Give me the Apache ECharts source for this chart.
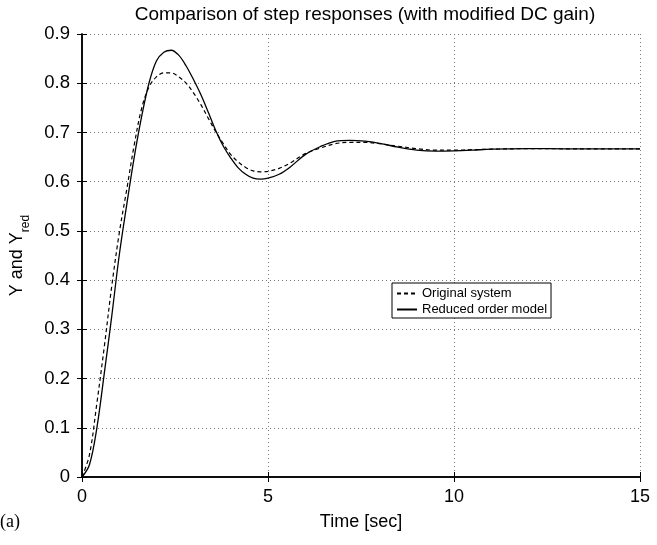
<!DOCTYPE html>
<html>
<head>
<meta charset="utf-8">
<script src="https://cdn.jsdelivr.net/npm/echarts@6/dist/echarts.min.js"></script>
<style>
  html, body { margin: 0; padding: 0; background: #fff; }
  #chart { width: 657px; height: 545px; }
</style>
</head>
<body>
<div id="chart"></div>
<script>
// values
var times = [0, 0.2, 0.4, 0.6, 0.8, 1.0, 1.2, 1.4, 1.6, 1.8, 2.0, 2.2, 2.4, 2.6, 2.8, 3.0,
  3.2, 3.4, 3.6, 3.8, 4.0, 4.2, 4.4, 4.6, 4.8, 5.0, 5.3, 5.6, 6.0, 6.4, 6.8, 7.2,
  7.6, 8.0, 8.5, 9.0, 9.5, 10, 10.5, 11, 12, 13, 14, 15]
var original = [0, 0.045, 0.15, 0.265, 0.388, 0.495, 0.583, 0.673, 0.748, 0.792, 0.813, 0.821, 0.821, 0.813, 0.800, 0.780,
  0.756, 0.728, 0.701, 0.677, 0.655, 0.640, 0.629, 0.622, 0.620, 0.621, 0.627, 0.638, 0.657, 0.668, 0.677, 0.680,
  0.680, 0.677, 0.672, 0.667, 0.664, 0.664, 0.665, 0.666, 0.667, 0.6668, 0.6666, 0.6666]
var reduced = [0, 0.025, 0.10, 0.211, 0.327, 0.45, 0.552, 0.648, 0.731, 0.80, 0.845, 0.863, 0.867, 0.857, 0.835, 0.807,
  0.776, 0.740, 0.703, 0.672, 0.648, 0.628, 0.615, 0.607, 0.605, 0.607, 0.615, 0.630, 0.655, 0.671, 0.682, 0.684,
  0.6825, 0.678, 0.670, 0.664, 0.662, 0.6625, 0.664, 0.666, 0.667, 0.6668, 0.6665, 0.6665]
var xTicks = [0, 5, 10, 15]
var yTicks = [0, 0.1, 0.2, 0.3, 0.4, 0.5, 0.6, 0.7, 0.8, 0.9]

var font = 'Liberation Sans, Arial, Helvetica, sans-serif'
var chart = echarts.init(document.getElementById('chart'))

function pairs (ys) {
  return times.map(function (t, i) { return [t, ys[i]] })
}

var tickStyle = { show: true, inside: true, length: 5, lineStyle: { color: '#000', width: 1 } }
var gridStyle = { show: true, lineStyle: { color: '#777', type: [1, 3], width: 1 } }

chart.setOption({
  animation: false,
  title: {
    text: 'Comparison of step responses (with modified DC gain)',
    left: 360,
    textAlign: 'center',
    top: 0,
    textStyle: { fontFamily: font, fontSize: 19, fontWeight: 'normal', color: '#000' }
  },
  legend: {
    left: 392,
    top: 283,
    orient: 'vertical',
    itemWidth: 20,
    itemHeight: 10,
    itemGap: 3,
    padding: [4, 4, 2, 4],
    borderColor: '#000',
    borderWidth: 1,
    backgroundColor: '#fff',
    borderRadius: 0,
    itemStyle: { opacity: 0 },
    textStyle: { fontFamily: font, fontSize: 13, color: '#000' },
    data: ['Original system', 'Reduced order model']
  },
  grid: { left: 82, right: 17, top: 34, bottom: 68 },
  xAxis: [{
    type: 'value',
    min: 0,
    max: 15,
    interval: 5,
    name: 'Time [sec]',
    nameLocation: 'middle',
    nameGap: 36,
    nameTextStyle: { fontFamily: font, fontSize: 18, color: '#000' },
    axisLine: { show: true, onZero: false, lineStyle: { color: '#000', width: 1.5 } },
    axisTick: tickStyle,
    axisLabel: {
      fontFamily: font, fontSize: 18, color: '#000', margin: 11,
      formatter: function (v) { return xTicks.indexOf(v) >= 0 ? String(v) : '' }
    },
    splitLine: gridStyle
  }, {
    type: 'value',
    position: 'top',
    min: 0,
    max: 15,
    interval: 5,
    axisLine: { show: true, lineStyle: { color: '#000', width: 1.5 } },
    axisTick: tickStyle,
    axisLabel: { show: false },
    splitLine: { show: false }
  }],
  yAxis: [{
    type: 'value',
    min: 0,
    max: 0.9,
    interval: 0.1,
    name: '{a|Y and Y}{b|red}',
    nameLocation: 'middle',
    nameGap: 56,
    nameTextStyle: {
      fontFamily: font,
      color: '#000',
      rich: {
        a: { fontFamily: font, fontSize: 18, color: '#000' },
        b: { fontFamily: font, fontSize: 12, color: '#000', verticalAlign: 'bottom', padding: [0, 0, -6, 0] }
      }
    },
    axisLine: { show: true, onZero: false, lineStyle: { color: '#000', width: 1.5 } },
    axisTick: tickStyle,
    axisLabel: {
      fontFamily: font, fontSize: 18.5, color: '#000', margin: 12,
      formatter: function (v) {
        var r = Math.round(v * 10) / 10
        return yTicks.indexOf(r) >= 0 ? String(r) : ''
      }
    },
    splitLine: gridStyle
  }, {
    type: 'value',
    position: 'right',
    min: 0,
    max: 0.9,
    interval: 0.1,
    axisLine: { show: true, lineStyle: { color: '#000', width: 1.5 } },
    axisTick: tickStyle,
    axisLabel: { show: false },
    splitLine: { show: false }
  }],
  graphic: [{
    type: 'text',
    left: 0,
    top: 513,
    style: { text: '(a)', fontFamily: 'Liberation Serif, Times New Roman, serif', fontSize: 18, fill: '#000' }
  }],
  series: [{
    name: 'Original system',
    type: 'line',
    data: pairs(original),
    smooth: 0.35,
    symbol: 'none',
    lineStyle: { color: '#000', width: 1.2, type: [4, 3] },
    itemStyle: { color: '#000' }
  }, {
    name: 'Reduced order model',
    type: 'line',
    data: pairs(reduced),
    smooth: 0.35,
    symbol: 'none',
    lineStyle: { color: '#000', width: 1.3 },
    itemStyle: { color: '#000' }
  }]
})
</script>
</body>
</html>
